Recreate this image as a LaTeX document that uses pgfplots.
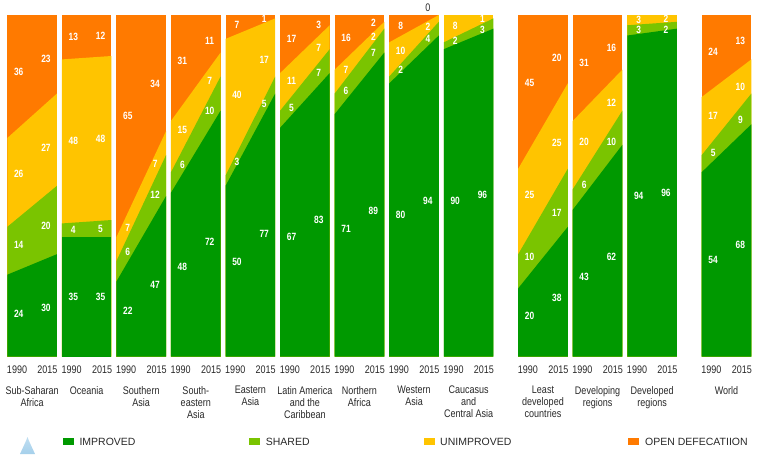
\documentclass[border=0pt]{standalone}
\usepackage{pgfplots}
\pgfplotsset{compat=1.18}
\usepackage{pgfplotstable}
\usepackage{fontspec}
\setmainfont{Liberation Sans}
\newfontfamily\cond{Liberation Sans}[FakeStretch=0.82]
\newfontfamily\condb{Liberation Sans Bold}[FakeStretch=0.8]
\definecolor{cIM}{RGB}{0,153,0}
\definecolor{cSH}{RGB}{122,196,0}
\definecolor{cUN}{RGB}{255,196,0}
\definecolor{cOD}{RGB}{255,122,0}
\definecolor{cTri}{RGB}{165,208,235}
\definecolor{txt}{RGB}{40,40,40}

\pgfplotstableread{
pos  imA shA unA odA imB shB unB odB
0.0  24  14  26  36  30  20  27  23
1.1  35  4   48  13  35  5   48  12
2.2  22  6   7   65  47  12  7   34
3.3  48  6   15  31  72  10  7   11
4.4  50  3   40  7   77  5   17  1
5.5  67  5   11  17  83  7   7   3
6.6  71  6   7   16  89  7   2   2
7.7  80  2   10  8   94  4   2   0
8.8  90  2   8   0   96  3   1   0
10.3 20  10  25  45  38  17  25  20
11.4 43  6   20  31  62  10  12  16
12.5 94  3   3   0   96  2   2   0
14.0 54  5   17  24  68  9   10  13
}\sanitation

\tikzset{
  val/.style={text=white, font=\condb\fontsize{10.5}{12}\selectfont, inner sep=0pt},
  yr/.style={text=txt, font=\cond\fontsize{11}{12}\selectfont, inner sep=0pt},
  cat/.style={text=txt, font=\cond\fontsize{11}{12}\selectfont, align=center, inner sep=0pt, anchor=north, yshift=-29.3pt},
  leg/.style={text=txt, font=\fontsize{10.5}{12}\selectfont, inner sep=0pt, anchor=west}
}
% keep labels of thin bands apart, working down from the top
\newcommand\adj[2]{\ifnum#1>0 \pgfmathsetmacro#2{min(#2,\cur)}\pgfmathsetmacro\cur{#2-3.1}\fi}

\begin{document}
\begin{tikzpicture}
\path[use as bounding box] (-7.3pt,-103.3pt) rectangle (751.7pt,356.7pt);
\begin{axis}[at={(0pt,0pt)}, anchor=south west, scale only axis,
  width=744pt, height=341.7pt, xmin=0, xmax=15, ymin=0, ymax=100,
  axis lines=none, clip=false]
\pgfplotsforeachungrouped \r in {0,...,12}{%
  \pgfplotstablegetelem{\r}{pos}\of\sanitation\let\P\pgfplotsretval
  \pgfplotstablegetelem{\r}{imA}\of\sanitation\let\iA\pgfplotsretval
  \pgfplotstablegetelem{\r}{shA}\of\sanitation\let\hA\pgfplotsretval
  \pgfplotstablegetelem{\r}{unA}\of\sanitation\let\nA\pgfplotsretval
  \pgfplotstablegetelem{\r}{odA}\of\sanitation\let\dA\pgfplotsretval
  \pgfplotstablegetelem{\r}{imB}\of\sanitation\let\iB\pgfplotsretval
  \pgfplotstablegetelem{\r}{shB}\of\sanitation\let\hB\pgfplotsretval
  \pgfplotstablegetelem{\r}{unB}\of\sanitation\let\nB\pgfplotsretval
  \pgfplotstablegetelem{\r}{odB}\of\sanitation\let\dB\pgfplotsretval
  \pgfmathsetmacro\xa{\P}\pgfmathsetmacro\xb{\P+1}%
  \pgfmathsetmacro\la{\P+0.23}\pgfmathsetmacro\lb{\P+0.78}%
  \pgfmathsetmacro\ya{\P+0.196}\pgfmathsetmacro\yb{\P+0.81}%
  \pgfmathsetmacro\sA{\iA+\hA}\pgfmathsetmacro\sB{\iB+\hB}%
  \pgfmathsetmacro\uA{\sA+\nA}\pgfmathsetmacro\uB{\sB+\nB}%
  \pgfmathsetmacro\oA{\uA+\dA}\pgfmathsetmacro\oB{\uB+\dB}%
  \pgfmathsetmacro\mIA{\iA/2}\pgfmathsetmacro\mIB{\iB/2}%
  \pgfmathsetmacro\mSA{\iA+\hA/2}\pgfmathsetmacro\mSB{\iB+\hB/2}%
  \pgfmathsetmacro\mUA{\sA+\nA/2}\pgfmathsetmacro\mUB{\sB+\nB/2}%
  \pgfmathsetmacro\mOA{\uA+\dA/2}\pgfmathsetmacro\mOB{\uB+\dB/2}%
  \pgfmathsetmacro\yIa{0.8*\mIA+0.2*\mIB}\pgfmathsetmacro\yIb{0.2*\mIA+0.8*\mIB}%
  \pgfmathsetmacro\ySa{0.8*\mSA+0.2*\mSB}\pgfmathsetmacro\ySb{0.2*\mSA+0.8*\mSB}%
  \pgfmathsetmacro\yUa{0.8*\mUA+0.2*\mUB}\pgfmathsetmacro\yUb{0.2*\mUA+0.8*\mUB}%
  \pgfmathsetmacro\yOa{0.8*\mOA+0.2*\mOB}\pgfmathsetmacro\yOb{0.2*\mOA+0.8*\mOB}%
  \def\cur{99}\adj\dA\yOa\adj\nA\yUa\adj\hA\ySa\adj\iA\yIa
  \def\cur{99}\adj\dB\yOb\adj\nB\yUb\adj\hB\ySb\adj\iB\yIb
  \edef\tmp{%
    \noexpand\addplot[fill=cOD,draw=none] coordinates {(\xa,\oA) (\xb,\oB)} \noexpand\closedcycle;
    \noexpand\addplot[fill=cUN,draw=none] coordinates {(\xa,\uA) (\xb,\uB)} \noexpand\closedcycle;
    \noexpand\addplot[fill=cSH,draw=none] coordinates {(\xa,\sA) (\xb,\sB)} \noexpand\closedcycle;
    \noexpand\addplot[fill=cIM,draw=none] coordinates {(\xa,\iA) (\xb,\iB)} \noexpand\closedcycle;
    \ifnum\iA>0 \noexpand\node[val] at (axis cs:\la,\yIa) {\iA};\fi
    \ifnum\hA>0 \noexpand\node[val] at (axis cs:\la,\ySa) {\hA};\fi
    \ifnum\nA>0 \noexpand\node[val] at (axis cs:\la,\yUa) {\nA};\fi
    \ifnum\dA>0 \noexpand\node[val] at (axis cs:\la,\yOa) {\dA};\fi
    \ifnum\iB>0 \noexpand\node[val] at (axis cs:\lb,\yIb) {\iB};\fi
    \ifnum\hB>0 \noexpand\node[val] at (axis cs:\lb,\ySb) {\hB};\fi
    \ifnum\nB>0 \noexpand\node[val] at (axis cs:\lb,\yUb) {\nB};\fi
    \ifnum\dB>0 \noexpand\node[val] at (axis cs:\lb,\yOb) {\dB};\fi
    \noexpand\node[yr, yshift=-13.5pt] at (axis cs:\ya,0) {1990};
    \noexpand\node[yr, yshift=-13.5pt] at (axis cs:\yb,0) {2015};
  }\tmp
}
\node[yr] at (axis cs:8.48,102.1) {0};
\node[cat] at (axis cs:0.5,0) {Sub-Saharan\\Africa};
\node[cat] at (axis cs:1.6,0) {Oceania};
\node[cat] at (axis cs:2.7,0) {Southern\\Asia};
\node[cat] at (axis cs:3.8,0) {South-\\eastern\\Asia};
\node[cat] at (axis cs:4.9,0) {Eastern\\Asia};
\node[cat] at (axis cs:6.0,0) {Latin America\\and the\\Caribbean};
\node[cat] at (axis cs:7.1,0) {Northern\\Africa};
\node[cat] at (axis cs:8.2,0) {Western\\Asia};
\node[cat] at (axis cs:9.3,0) {Caucasus\\and\\Central Asia};
\node[cat] at (axis cs:10.8,0) {Least\\developed\\countries};
\node[cat] at (axis cs:11.9,0) {Developing\\regions};
\node[cat] at (axis cs:13.0,0) {Developed\\regions};
\node[cat] at (axis cs:14.5,0) {World};
\end{axis}
% legend
\shade[top color=cTri!70, bottom color=cTri] (12.7pt,-97.3pt) .. controls (16pt,-90pt) and (19pt,-84pt) .. (20.2pt,-80.3pt) .. controls (21.4pt,-84pt) and (24.4pt,-90pt) .. (27.7pt,-97.3pt) -- cycle;
\fill[cIM] (56pt,-88.3pt) rectangle (66.7pt,-81.3pt);
\node[leg] at (72pt,-84.8pt) {IMPROVED};
\fill[cSH] (242pt,-88.3pt) rectangle (252.7pt,-81.3pt);
\node[leg] at (258.4pt,-84.8pt) {SHARED};
\fill[cUN] (416.7pt,-88.3pt) rectangle (427.7pt,-81.3pt);
\node[leg] at (432.7pt,-84.8pt) {UNIMPROVED};
\fill[cOD] (621pt,-88.3pt) rectangle (631.7pt,-81.3pt);
\node[leg] at (637.7pt,-84.8pt) {OPEN DEFECATIION};
\end{tikzpicture}
\end{document}
